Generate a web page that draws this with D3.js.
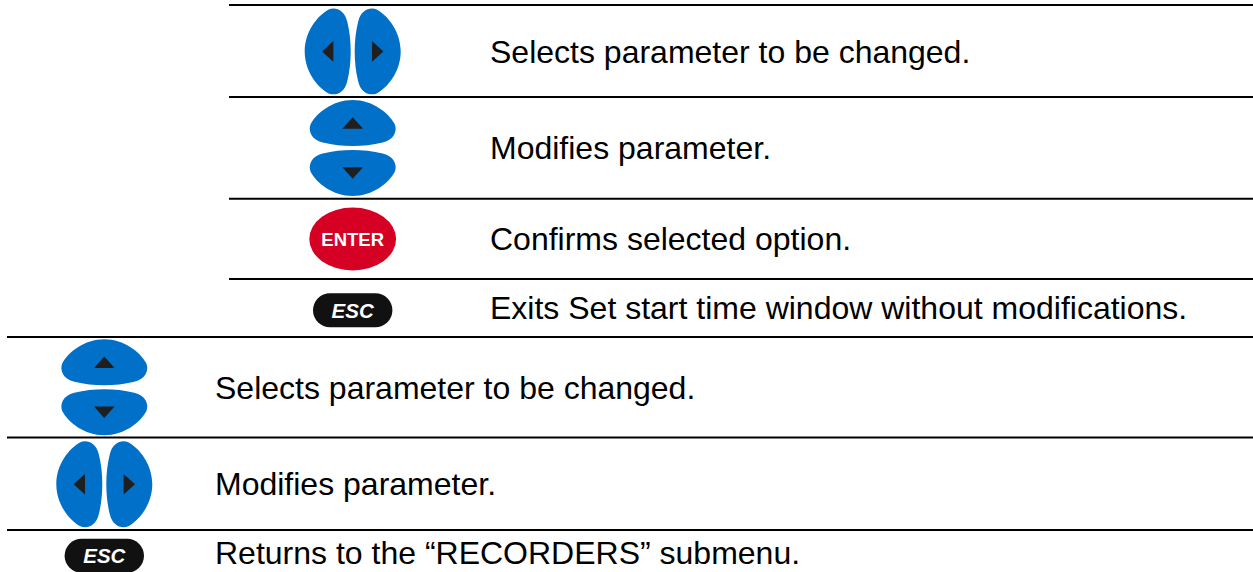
<!DOCTYPE html>
<html>
<head>
<meta charset="utf-8">
<script src="https://cdn.jsdelivr.net/npm/d3@7"></script>
<style>
    html, body { margin: 0; padding: 0; background: #fff; overflow: hidden; }
    svg { display: block; }
</style>
</head>
<body>
<div id="chart"></div>
<script>
// table contents, top to bottom
var upperKeys = ["leftRight", "upDown", "enter", "esc"];
var upperLabels = [
    "Selects parameter to be changed.",
    "Modifies parameter.",
    "Confirms selected option.",
    "Exits Set start time window without modifications."
];
var lowerKeys = ["upDown", "leftRight", "esc"];
var lowerLabels = [
    "Selects parameter to be changed.",
    "Modifies parameter.",
    "Returns to the \u201cRECORDERS\u201d submenu."
];

var width = 1253, height = 572;
var blue = "#0070c8", red = "#d50024", dark = "#111111", arrow = "#1f1f1f";

// where each table sits on the page
var upperTable = { x0: 229, keyX: 352.7, textX: 490, rules: [5, 97, 198.7, 279], keyY: [51.4, 148, 239, 310.3], textY: [63, 159, 250, 319] };
var lowerTable = { x0: 7, keyX: 104.3, textX: 215, rules: [337, 437.5, 530], keyY: [387.3, 484.3, 555.7], textY: [399, 495, 564] };

var svg = d3.select("#chart").append("svg")
    .attr("width", width)
    .attr("height", height);

// one half of the arrow pad, pointing up, with its flat edge towards the centre
var padShape = "M0,-48 C20,-48 36,-35 42,-24 C45,-17 41,-8 30,-5.5 C20,-3 10,-2 0,-2 " +
    "C-10,-2 -20,-3 -30,-5.5 C-41,-8 -45,-17 -42,-24 C-36,-35 -20,-48 0,-48 Z";
var padArrow = "M-10.3,-19.3 L0,-30.7 L10.3,-19.3 Z";

function drawPad(g, angles) {
    // angles: rotation of the two halves
    var half = g.selectAll("g.half")
        .data(angles)
        .enter().append("g")
        .attr("class", "half")
        .attr("transform", function (d) { return "rotate(" + d + ")"; });
    half.append("path").attr("d", padShape).attr("fill", blue);
    half.append("path").attr("d", padArrow).attr("fill", arrow);
}

function drawKey(g, type) {
    if (type == "upDown") {
        drawPad(g, [0, 180]);
    }
    else if (type == "leftRight") {
        drawPad(g, [-90, 90]);
    }
    else if (type == "enter") {
        g.append("ellipse")
            .attr("rx", 43.4)
            .attr("ry", 31.4)
            .attr("fill", red);
        g.append("text")
            .attr("y", 6.5)
            .attr("text-anchor", "middle")
            .attr("font-family", "'Liberation Sans', Arial, sans-serif")
            .attr("font-weight", "bold")
            .attr("font-size", 18.5)
            .attr("fill", "#fff")
            .text("ENTER");
    }
    else {
        g.append("rect")
            .attr("x", -39.7)
            .attr("y", -17)
            .attr("width", 79.4)
            .attr("height", 34)
            .attr("rx", 17)
            .attr("fill", dark);
        g.append("text")
            .attr("y", 7.5)
            .attr("text-anchor", "middle")
            .attr("font-family", "'Liberation Sans', Arial, sans-serif")
            .attr("font-weight", "bold")
            .attr("font-style", "italic")
            .attr("font-size", 20.5)
            .attr("fill", "#fff")
            .text("ESC");
    }
}

function drawTable(layout, keys, labels) {
    var g = svg.append("g");

    g.selectAll("line")
        .data(layout.rules)
        .enter().append("line")
        .attr("x1", layout.x0)
        .attr("x2", width)
        .attr("y1", function (d) { return d; })
        .attr("y2", function (d) { return d; })
        .attr("stroke", "#000")
        .attr("stroke-width", 2);

    g.selectAll("g.key")
        .data(keys)
        .enter().append("g")
        .attr("class", "key")
        .attr("transform", function (d, i) { return "translate(" + layout.keyX + "," + layout.keyY[i] + ")"; })
        .each(function (d) { drawKey(d3.select(this), d); });

    g.selectAll("text.label")
        .data(labels)
        .enter().append("text")
        .attr("class", "label")
        .attr("x", layout.textX)
        .attr("y", function (d, i) { return layout.textY[i]; })
        .attr("font-family", "'Liberation Sans', Arial, sans-serif")
        .attr("font-size", 32)
        .attr("fill", "#000")
        .text(function (d) { return d; });
}

drawTable(upperTable, upperKeys, upperLabels);
drawTable(lowerTable, lowerKeys, lowerLabels);
</script>
</body>
</html>
